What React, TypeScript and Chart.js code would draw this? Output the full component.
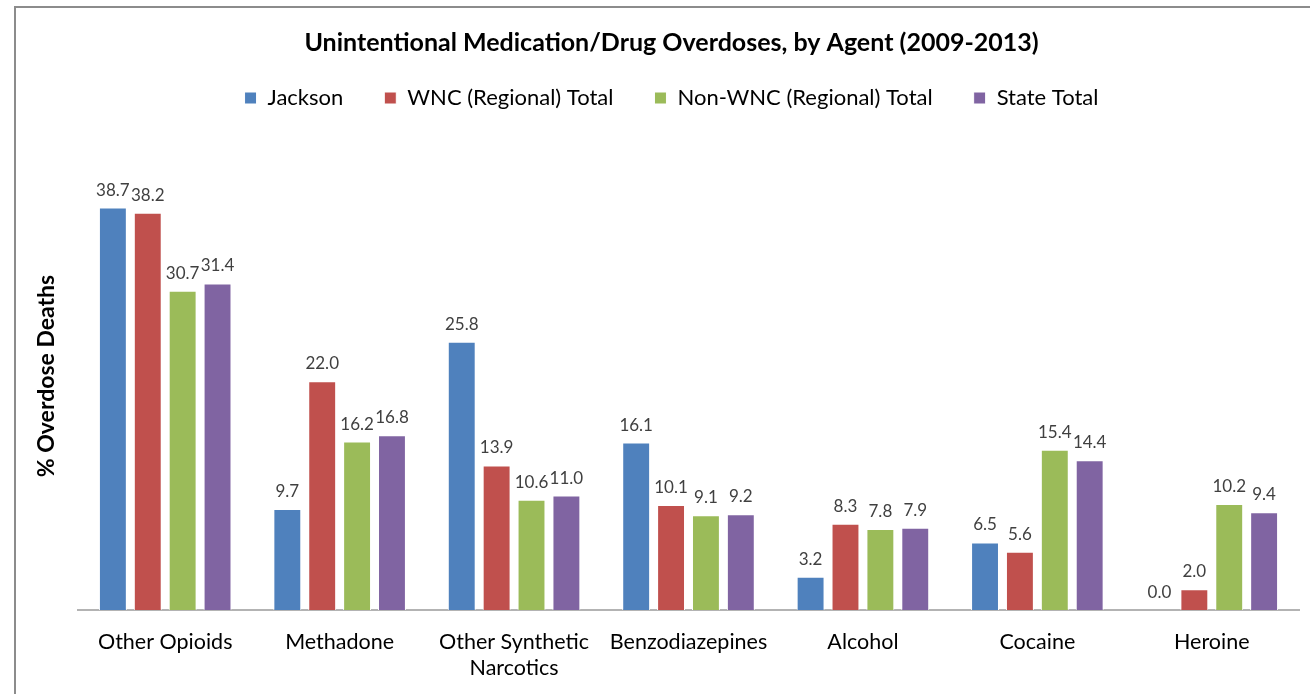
import React, { useEffect, useRef } from "react";
import { Chart, registerables } from "chart.js";

Chart.register(...registerables);

const categories: (string | string[])[] = [
  "Other Opioids",
  "Methadone",
  ["Other Synthetic", "Narcotics"],
  "Benzodiazepines",
  "Alcohol",
  "Cocaine",
  "Heroine",
];
const seriesNames = ["Jackson", "WNC (Regional) Total", "Non-WNC (Regional) Total", "State Total"];
const jackson = [38.7, 9.7, 25.8, 16.1, 3.2, 6.5, 0.0];
const wnc = [38.2, 22.0, 13.9, 10.1, 8.3, 5.6, 2.0];
const nonWnc = [30.7, 16.2, 10.6, 9.1, 7.8, 15.4, 10.2];
const stateTotal = [31.4, 16.8, 11.0, 9.2, 7.9, 14.4, 9.4];
const colors = ["#4F81BD", "#C0504D", "#9BBB59", "#8064A2"];

const FONT = "Lato, 'Open Sans', sans-serif";

const labelPlugin = {
  id: "barLabels",
  beforeLayout(chart: any) {
    const lg = chart.legend;
    if (lg && !lg._fixedFit) {
      const orig = lg.fit.bind(lg);
      lg.fit = function () {
        orig();
        this.height = 96;
      };
      lg._fixedFit = true;
    }
  },
  afterDatasetsDraw(chart: any) {
    const ctx = chart.ctx;
    ctx.save();
    ctx.font = `17px ${FONT}`;
    ctx.fillStyle = "#404040";
    ctx.textAlign = "center";
    ctx.textBaseline = "bottom";
    chart.data.datasets.forEach((ds: any, i: number) => {
      const meta = chart.getDatasetMeta(i);
      meta.data.forEach((bar: any, j: number) => {
        ctx.fillText(Number(ds.data[j]).toFixed(1), bar.x, bar.y - 9);
      });
    });
    ctx.restore();
  },
};

export default function App() {
  const ref = useRef<HTMLCanvasElement>(null);
  useEffect(() => {
    document.body.style.overflow = "hidden";
    const allSeries = [jackson, wnc, nonWnc, stateTotal];
    const chart = new Chart(ref.current!, {
      type: "bar",
      data: {
        labels: categories,
        datasets: allSeries.map((d, i) => ({
          label: seriesNames[i],
          data: d,
          backgroundColor: colors[i],
          borderColor: "#ffffff",
          borderWidth: 1,
          categoryPercentage: 0.8,
          barPercentage: 0.8,
        })),
      },
      options: {
        responsive: false,
        animation: false,
        layout: { padding: { top: 28, left: 44, right: 11, bottom: 0 } },
        plugins: {
          title: {
            display: true,
            text: "Unintentional Medication/Drug Overdoses, by Agent (2009-2013)",
            font: { family: FONT, size: 25, weight: "bold" },
            color: "#000000",
            padding: { top: 0, bottom: -12 },
          },
          legend: {
            display: true,
            labels: {
              font: { family: FONT, size: 22 },
              color: "#000000",
              boxWidth: 12,
              boxHeight: 12,
              padding: 41,
            },
          },
          tooltip: { enabled: false },
        },
        scales: {
          x: {
            grid: { display: false },
            border: { display: true, color: "#b3b3b3", width: 2 },
            ticks: { font: { family: FONT, size: 21.5 }, color: "#000000", padding: 11, maxRotation: 0 },
            afterFit(scale: any) {
              scale.height = 84;
            },
          },
          y: {
            min: 0,
            max: 45,
            grid: { display: false },
            border: { display: false },
            ticks: { display: false },
            title: {
              display: true,
              text: "% Overdose Deaths",
              font: { family: FONT, size: 23, weight: "bold" },
              color: "#000000",
              padding: { top: -11, bottom: 0 },
            },
            afterFit(scale: any) {
              scale.width = 34;
            },
          },
        },
      },
      plugins: [labelPlugin],
    });
    return () => chart.destroy();
  }, []);
  return (
    <>
      <canvas ref={ref} width={1310} height={694} style={{ position: "fixed", left: 0, top: 0 }} />
      <div
        style={{
          position: "fixed",
          left: 14,
          top: 6,
          right: -10,
          bottom: -10,
          border: "2px solid #8c8c8c",
          pointerEvents: "none",
        }}
      />
    </>
  );
}
